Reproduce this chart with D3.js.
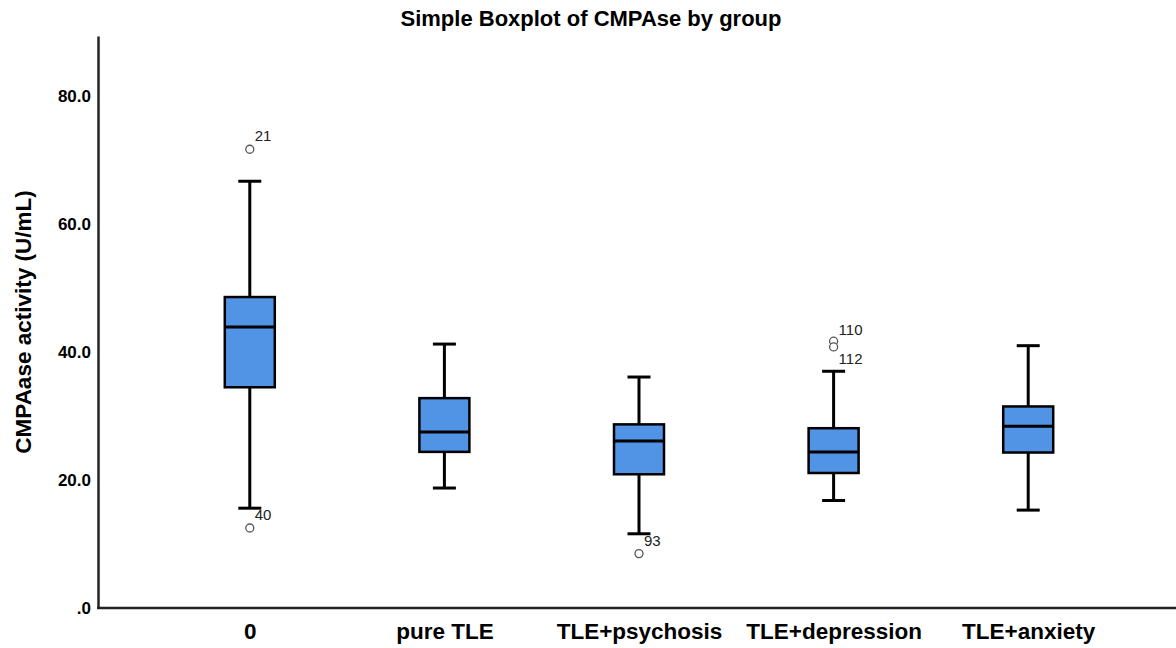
<!DOCTYPE html>
<html>
<head>
<meta charset="utf-8">
<script src="https://cdn.jsdelivr.net/npm/d3@7"></script>
<style>
  body { margin: 0; background: #fff; }
  text { font-family: "Liberation Sans", Arial, sans-serif; }
</style>
</head>
<body>
<div id="chart"></div>
<script>
// groups and box statistics
var groups   = ["0", "pure TLE", "TLE+psychosis", "TLE+depression", "TLE+anxiety"];
var whiskLo  = [15.6, 18.75, 11.6, 16.8, 15.3];
var q1       = [34.5, 24.4, 20.9, 21.1, 24.3];
var medians  = [43.9, 27.5, 26.1, 24.4, 28.4];
var q3       = [48.6, 32.8, 28.7, 28.1, 31.5];
var whiskHi  = [66.7, 41.25, 36.1, 37.0, 41.0];

// outliers: group, value, case label
var outGroup = ["0", "0", "TLE+psychosis", "TLE+depression", "TLE+depression"];
var outValue = [71.7, 12.5, 8.5, 41.7, 40.8];
var outLabel = ["21", "40", "93", "110", "112"];
var outLabelDy = [-8, -8, -8, -6, 17];

var yTicks = [0, 20, 40, 60, 80];

var width = 1176, height = 648;
var svg = d3.select("#chart").append("svg")
  .attr("width", width)
  .attr("height", height);

var x = d3.scalePoint()
  .domain(groups)
  .range([98, 1180])
  .padding(0.78);

var y = d3.scaleLinear()
  .domain([0, 89.4])
  .range([608, 36]);

// title
svg.append("text")
  .attr("x", 591).attr("y", 26)
  .attr("text-anchor", "middle")
  .style("font-size", "22px").style("font-weight", "bold")
  .text("Simple Boxplot of CMPAse by group");

// y label
svg.append("text")
  .attr("transform", "translate(31,322) rotate(-90)")
  .attr("text-anchor", "middle")
  .style("font-size", "22.5px").style("font-weight", "bold")
  .text("CMPAase activity (U/mL)");

// axes
var yAxis = d3.axisLeft(y)
  .tickValues(yTicks)
  .tickSize(0)
  .tickPadding(7)
  .tickFormat(function(d){ return d === 0 ? ".0" : d3.format(".1f")(d); });

var gy = svg.append("g").attr("transform", "translate(98,0)").call(yAxis);
gy.select(".domain").attr("stroke", "#222").attr("stroke-width", 2.5);
gy.selectAll("text").style("font-size", "17px").style("font-weight", "bold").attr("fill", "#000");

var xAxis = d3.axisBottom(x).tickSize(0).tickPadding(15);
var gx = svg.append("g").attr("transform", "translate(0,608)").call(xAxis);
gx.select(".domain").attr("d", "M97,0H1176").attr("stroke", "#222").attr("stroke-width", 2.5);
gx.selectAll("text").style("font-size", "22.5px").style("font-weight", "bold").attr("fill", "#000");

var boxW = 50, capW = 23;
var stats = groups.map(function(g, i){
  return { g: g, lo: whiskLo[i], q1: q1[i], med: medians[i], q3: q3[i], hi: whiskHi[i] };
});

var boxes = svg.append("g").selectAll("g").data(stats).enter().append("g");

// whisker stems
boxes.append("line")
  .attr("x1", function(d){ return x(d.g); })
  .attr("x2", function(d){ return x(d.g); })
  .attr("y1", function(d){ return y(d.hi); })
  .attr("y2", function(d){ return y(d.lo); })
  .attr("stroke", "#000").attr("stroke-width", 3);

// caps
["hi", "lo"].forEach(function(k){
  boxes.append("line")
    .attr("x1", function(d){ return x(d.g) - capW / 2; })
    .attr("x2", function(d){ return x(d.g) + capW / 2; })
    .attr("y1", function(d){ return y(d[k]); })
    .attr("y2", function(d){ return y(d[k]); })
    .attr("stroke", "#000").attr("stroke-width", 3);
});

// box
boxes.append("rect")
  .attr("x", function(d){ return x(d.g) - boxW / 2; })
  .attr("y", function(d){ return y(d.q3); })
  .attr("width", boxW)
  .attr("height", function(d){ return y(d.q1) - y(d.q3); })
  .attr("fill", "#5193e5")
  .attr("stroke", "#000").attr("stroke-width", 2.5);

// median
boxes.append("line")
  .attr("x1", function(d){ return x(d.g) - boxW / 2; })
  .attr("x2", function(d){ return x(d.g) + boxW / 2; })
  .attr("y1", function(d){ return y(d.med); })
  .attr("y2", function(d){ return y(d.med); })
  .attr("stroke", "#000").attr("stroke-width", 3);

// outliers
var outs = outGroup.map(function(g, i){
  return { g: g, v: outValue[i], label: outLabel[i], dy: outLabelDy[i] };
});

svg.append("g").selectAll("circle").data(outs).enter().append("circle")
  .attr("cx", function(d){ return x(d.g); })
  .attr("cy", function(d){ return y(d.v); })
  .attr("r", 4)
  .attr("fill", "#fff")
  .attr("stroke", "#555").attr("stroke-width", 1.3);

svg.append("g").selectAll("text").data(outs).enter().append("text")
  .attr("x", function(d){ return x(d.g) + 5; })
  .attr("y", function(d){ return y(d.v) + d.dy; })
  .style("font-size", "15px")
  .attr("fill", "#222")
  .text(function(d){ return d.label; });
</script>
</body>
</html>
